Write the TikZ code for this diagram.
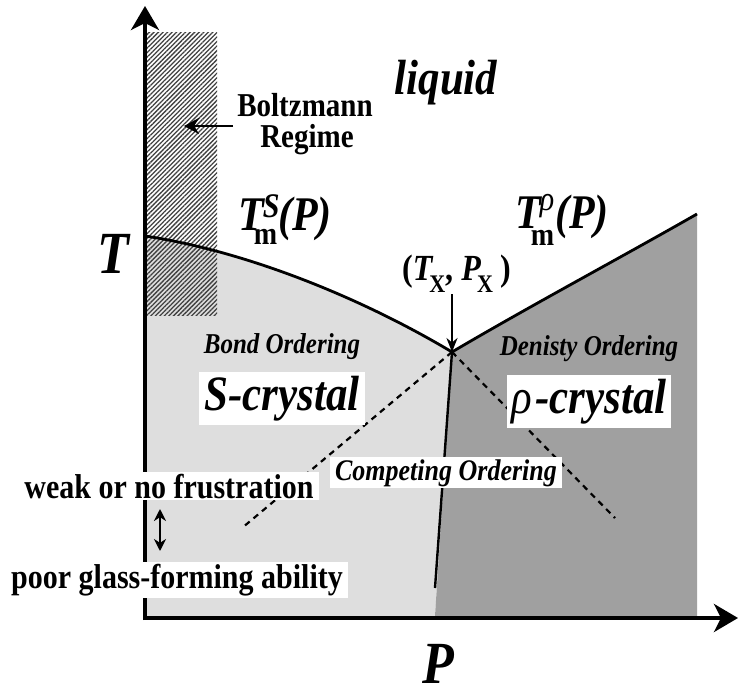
\documentclass[tikz,border=0pt]{standalone}
\usepackage{fontspec}
\setmainfont{Liberation Serif}
\usepackage{graphicx}
\usetikzlibrary{arrows.meta,patterns.meta}
\definecolor{lightreg}{RGB}{222,222,222}
\definecolor{darkreg}{RGB}{160,160,160}
\newcommand\vst[1]{\scalebox{1}[1.15]{#1}}
\newcommand\fsz[1]{\fontsize{#1}{#1}\selectfont}
\begin{document}
\begin{tikzpicture}[x=1pt,y=-1pt,
  lbl/.style={inner sep=0pt, anchor=base},
  wbox/.style={fill=white, inner xsep=5pt, inner ysep=4pt, anchor=base},
  phaseline/.style={line width=2.8pt},
  dashline/.style={line width=2.2pt, dash pattern=on 6pt off 5pt},
  axisline/.style={line width=3.8pt, -{Stealth[length=24pt,width=28pt,inset=7pt]}},
  ptr/.style={line width=2.8pt, -{Stealth[length=15pt,width=16pt]}}]
\useasboundingbox (0,0) rectangle (740,693);
% key points
\coordinate (t0) at (145,236);
\coordinate (tx) at (452,352);
\coordinate (tr) at (697,214);
\coordinate (bl) at (435,588);
\coordinate (dl) at (242,528);
\coordinate (dr) at (615,518);
% regions
\fill[lightreg] (t0) .. controls (245,251) and (360,297) .. (tx) -- (435,616) -- (145,616) -- cycle;
\fill[darkreg] (tx) .. controls (530,306) and (620,258) .. (tr) -- (697,616) -- (435,616) -- cycle;
% Boltzmann regime hatch
\fill[pattern={Lines[angle=45,distance=3.2pt,line width=1.3pt]}, pattern color=black!75] (147,33) rectangle (217,315);
% phase boundaries
\draw[phaseline] (t0) .. controls (245,251) and (360,297) .. (tx);
\draw[phaseline] (tx) .. controls (530,306) and (620,258) .. (tr);
\draw[line width=2.4pt] (tx) -- (bl);
\draw[dashline] (tx) -- (dl);
\draw[dashline] (tx) -- (dr);
% axes
\coordinate (o) at (145,620);
\coordinate (ytip) at (145,6);
\coordinate (o2) at (143,618);
\coordinate (xtip) at (738,618);
\draw[axisline] (o) -- (ytip);
\draw[axisline] (o2) -- (xtip);
% labels
\node[lbl] (liq) at (446,95) {\vst{\fsz{43}\bfseries\itshape liquid}};
\node[lbl] (bz1) at (305,117) {\vst{\fsz{29}\bfseries Boltzmann}};
\node[lbl] (bz2) at (307,147) {\vst{\fsz{29}\bfseries Regime}};
\coordinate (bza) at (233,126);
\coordinate (bzb) at (184,126);
\draw[ptr] (bza) -- (bzb);
\node[lbl] (Tlab) at (113,273) {\vst{\fsz{52}\bfseries\itshape T}};
\node[lbl, anchor=base west] (tms) at (238,230) {\vst{\fsz{42}\bfseries\itshape T\rlap{\kern-1pt\raisebox{11pt}{\fsz{30}S}}\kern-10pt\raisebox{-13pt}{\fsz{28}\upshape m}\kern1pt(P)}};
\node[lbl, anchor=base west] (tmr) at (515,228) {\vst{\fsz{42}\bfseries\itshape T\rlap{\kern-1pt\raisebox{15pt}{\fsz{30}\mdseries ρ}}\kern-10pt\raisebox{-15pt}{\fsz{28}\upshape m}\kern1pt(P)}};
\node[lbl, anchor=base west] (txp) at (402,280) {\vst{\fsz{32}\bfseries (\textit{T}\kern-4pt\raisebox{-11pt}{\fsz{22}X}, \textit{P}\kern-4pt\raisebox{-11pt}{\fsz{22}X} )}};
\coordinate (txa) at (452,294);
\draw[line width=2pt, -{Stealth[length=14pt,width=11pt]}] (txa) -- (tx);
\node[lbl] (bond) at (282,353) {\vst{\fsz{25}\bfseries\itshape Bond Ordering}};
\node[lbl] (dens) at (589,355) {\vst{\fsz{25}\bfseries\itshape Denisty Ordering}};
\node[wbox] (sc) at (282,410) {\vst{\fsz{43}\bfseries\itshape S-crystal}};
\node[wbox] (rc) at (589,413) {\vst{\fsz{43}\bfseries\itshape {\mdseries ρ}\kern3pt-crystal}};
\node[wbox, inner ysep=2pt] (comp) at (446,480) {\vst{\fsz{26}\bfseries\itshape Competing Ordering}};
\node[wbox, inner ysep=2pt] (weak) at (169,498) {\vst{\fsz{30}\bfseries weak or no frustration}};
\node[wbox, inner ysep=2pt] (poor) at (177,588) {\vst{\fsz{30}\bfseries poor glass-forming ability}};
\coordinate (da) at (160,509);
\coordinate (db) at (160,551);
\draw[line width=2.6pt, {Stealth[length=12pt,width=12pt]}-{Stealth[length=12pt,width=12pt]}] (da) -- (db);
\node[lbl] (Plab) at (438,683) {\vst{\fsz{52}\bfseries\itshape P}};
\end{tikzpicture}
\end{document}
